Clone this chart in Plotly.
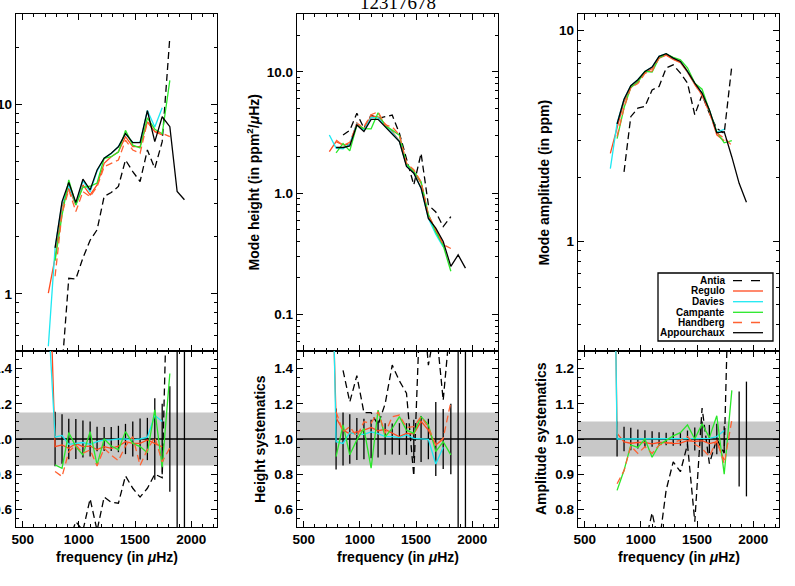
import plotly.graph_objects as go
import math

W, H = 795, 586
N = None

# ---------------- data ----------------
freq = [728, 788, 850, 910, 973, 1036, 1100, 1162, 1225, 1288, 1352, 1415,
        1480, 1545, 1610, 1676, 1742, 1810, 1875, 1940]

names = ["Antia", "Regulo", "Davies", "Campante", "Handberg", "Appourchaux"]

# left column, top (values)
p1_antia = [N, N, 0.41, 1.21, 1.2, 1.55, 1.92, 2.18, 3.27, 3.43, 3.69, 5.09, 4.42, 3.92, 5.75, 4.6, 6.36, 22.7, N, N]
p1_regulo = [1.01, 1.55, 2.89, 3.61, 2.95, 3.76, 3.33, 3.76, 4.89, 5.3, 5.63, 6.76, 5.99, 5.99, 8.1, 7.18, 6.9, N, N, N]
p1_davies = [0.53, 1.75, 3.0, 3.75, 2.98, 3.95, 3.45, 4.45, 5.2, 5.5, 6.0, 7.0, 6.3, 6.3, 9.3, 7.6, 9.6, N, N, N]
p1_campante = [N, 1.5, 2.6, 4.0, 2.95, 3.65, 3.7, 3.85, 5.2, 5.3, 5.6, 7.3, 6.1, 5.9, 8.5, 7.4, 7.0, 13.4, N, N]
p1_handberg = [N, 1.24, 2.67, 3.54, 2.72, 3.47, 3.26, 3.68, 4.69, 4.89, 5.09, 6.48, 5.75, 5.52, 8.1, 7.2, 7.03, 6.76, N, N]
p1_appourchaux = [N, 1.75, 3.07, 3.87, 3.04, 4.03, 3.54, 4.51, 5.2, 5.52, 5.98, 7.03, 6.29, 6.29, 9.26, 6.36, 8.61, 7.63, 3.47, 3.14]

# left column, bottom (systematics)
r1_antia = [N, N, 0.3, 0.42, 0.53, 0.48, 0.66, 0.48, 0.67, 0.64, 0.635, 0.79, 0.72, 0.67, 0.72, 0.80, 0.78, 2.5, N, N]
r1_regulo = [2.2, 0.957, 0.966, 0.947, 0.975, 0.957, 0.96, 0.94, 0.957, 0.947, 0.96, 0.985, 0.975, 0.975, 0.995, 0.975, 0.955, N, N, N]
r1_davies = [1.7, 1.01, 1.02, 0.97, 0.975, 0.98, 0.97, 0.985, 0.995, 0.995, 1.0, 1.0, 0.995, 1.0, 1.01, 1.135, 1.1, N, N, N]
r1_campante = [N, 0.853, 0.834, 1.036, 0.957, 0.909, 1.042, 0.853, 1.0, 0.96, 0.938, 1.042, 0.975, 0.957, 0.922, 1.166, 0.84, 1.372, N, N]
r1_handberg = [N, 0.815, 0.787, 0.928, 0.966, 0.919, 0.938, 0.847, 0.947, 0.909, 0.877, 0.96, 1.013, 0.85, 0.94, 1.01, 0.87, 0.95, N, N]
e1 = [N, 0.155, 0.14, 0.115, 0.113, 0.105, 0.1, 0.07, 0.068, 0.068, 0.075, 0.086, 0.1, 0.117, 0.12, 0.232, 0.2, 0.3, 5, 5]

# middle column, top (mode height)
p2_antia = [N, N, 3.02, 3.3, 4.55, 3.43, 4.4, 4.14, 4.27, 4.4, 3.12, 1.94, 1.17, 2.13, 0.80, 0.70, 0.53, 0.64, N, N]
p2_regulo = [2.2, 2.66, 2.5, 2.52, 3.8, 3.38, 4.33, 4.25, 3.73, 3.22, 2.69, 1.71, 1.5, 1.21, 0.65, 0.5, 0.376, N, N, N]
p2_davies = [3.02, 2.35, 2.32, 2.54, 3.75, 3.3, 4.22, 4.18, 3.59, 3.16, 2.68, 1.70, 1.47, 1.1, 0.62, 0.46, 0.36, N, N, N]
p2_campante = [N, 2.15, 2.57, 2.23, 3.63, 3.41, 3.39, 4.6, 3.59, 3.31, 3.0, 1.74, 1.51, 1.24, 0.67, 0.48, 0.37, 0.227, N, N]
p2_handberg = [N, 2.75, 2.48, 2.62, 3.70, 3.54, 4.43, 4.69, 3.65, 3.52, 3.02, 1.77, 1.56, 1.24, 0.66, 0.50, 0.378, 0.35, N, N]
p2_appourchaux = [N, 2.38, 2.38, 2.45, 3.65, 3.22, 4.06, 4.06, 3.54, 3.12, 2.66, 1.66, 1.46, 1.1, 0.62, 0.515, 0.40, 0.249, 0.31, 0.241]

# middle column, bottom (height systematics)
r2_antia = [N, N, 1.39, 1.21, 1.36, 1.15, 1.15, 1.08, 1.2, 1.42, 1.33, 1.26, 0.79, 1.9, 1.42, 1.65, 1.22, 1.7, N, N]
r2_regulo = [2.5, 1.12, 1.05, 1.03, 1.04, 1.05, 1.066, 1.047, 1.055, 1.032, 1.013, 1.032, 1.03, 1.1, 1.05, 0.966, 1.0, N, N, N]
r2_davies = [2.9, 0.985, 0.975, 1.036, 1.026, 1.026, 1.04, 1.03, 1.013, 1.013, 1.008, 1.023, 1.004, 1.0, 0.998, 0.858, 0.953, N, N, N]
r2_campante = [N, 0.9, 1.08, 0.91, 0.995, 1.06, 0.834, 1.164, 1.013, 1.06, 1.127, 1.05, 1.032, 1.127, 1.08, 0.928, 0.985, 0.91, N, N]
r2_handberg = [N, 1.155, 1.04, 1.07, 1.013, 1.098, 1.09, 1.155, 1.032, 1.127, 1.136, 1.066, 1.07, 1.127, 1.066, 0.966, 1.004, 1.21, N, N]
e2 = [N, 0.173, 0.15, 0.14, 0.12, 0.115, 0.11, 0.105, 0.09, 0.088, 0.09, 0.09, 0.11, 0.13, 0.115, 0.21, 0.17, 0.2, 5, 5]

# right column, top (mode amplitude)
p3_antia = [N, N, 2.13, 3.9, 4.28, 4.36, 5.23, 5.43, 6.64, 6.88, 6.28, 5.63, 3.98, 4.95, 4.05, 3.43, 3.25, 6.81, N, N]
p3_regulo = [2.61, 3.5, 4.6, 5.35, 5.75, 6.3, 6.6, 7.4, 7.65, 7.3, 7.05, 6.35, 5.55, 4.95, 4.15, 3.2, 3.0, N, N, N]
p3_davies = [2.21, 3.63, 4.72, 5.47, 5.84, 6.4, 6.71, 7.55, 7.77, 7.4, 7.14, 6.4, 5.63, 5.05, 4.2, 3.29, 3.39, N, N, N]
p3_campante = [N, 3.07, 4.3, 5.38, 5.7, 6.4, 6.36, 7.42, 7.75, 7.47, 7.27, 6.66, 5.63, 5.27, 4.22, 3.3, 2.93, 3.0, N, N]
p3_handberg = [N, 3.14, 4.3, 5.36, 5.6, 6.26, 6.43, 7.42, 7.68, 7.33, 7.12, 6.44, 5.55, 4.91, 4.07, 3.26, 3.08, 2.85, N, N]
p3_appourchaux = [N, 3.6, 4.72, 5.47, 5.84, 6.4, 6.71, 7.55, 7.77, 7.4, 7.14, 6.4, 5.63, 5.05, 4.2, 3.27, 3.31, 2.51, 1.88, 1.53]

# right column, bottom (amplitude systematics)
r3_antia = [N, N, 0.4, 0.55, 0.62, 0.70, 0.79, 0.70, 0.855, 0.935, 0.907, 0.985, 0.765, 1.088, 0.93, 1.0, 0.96, 1.8, N, N]
r3_regulo = [2.4, 1.016, 0.992, 0.988, 0.99, 0.99, 0.986, 0.99, 0.99, 0.987, 0.988, 0.995, 0.993, 0.995, 0.987, 0.992, 0.94, N, N, N]
r3_davies = [2.4, 1.0, 1.0, 1.0, 1.0, 1.0, 1.0, 1.0, 1.0, 1.0, 1.0, 1.0, 1.0, 1.0, 1.002, 1.007, 1.024, N, N, N]
r3_campante = [N, 0.854, 0.911, 0.983, 0.976, 1.0, 0.948, 0.983, 0.997, 1.009, 1.018, 1.04, 1.0, 1.043, 1.004, 1.066, 0.9, 1.138, N, N]
r3_handberg = [N, 0.873, 0.91, 0.98, 0.959, 0.978, 0.959, 0.983, 0.988, 0.99, 0.997, 1.007, 0.985, 0.973, 0.95, 0.997, 0.93, 1.054, N, N]
e3 = [N, 0.05, 0.035, 0.032, 0.027, 0.025, 0.022, 0.019, 0.018, 0.019, 0.019, 0.024, 0.033, 0.05, 0.04, 0.043, 0.036, N, 0.135, 0.163]

title_text = "12317678"
xtitle = "frequency (in <i>μ</i>Hz)"

# ---------------- styles ----------------
colors = {"Antia": "black", "Regulo": "#ff4a1e", "Davies": "#1ee8f2",
          "Campante": "#2ae82a", "Handberg": "#ff6232", "Appourchaux": "black"}
dashes = {"Antia": "7px,4px", "Regulo": "solid", "Davies": "solid",
          "Campante": "solid", "Handberg": "7px,4px", "Appourchaux": "solid"}
FONT = "Liberation Sans"
LW = 1.3

fig = go.Figure()

cols_x = [(16, 217), (297, 498), (578, 779)]
y_top = (14, 351)
y_bot = (351, 527)

def px_dom_x(a, b):
    return [a / W, b / W]

def px_dom_y(top, bottom):
    return [(H - bottom) / H, (H - top) / H]

upper_series = [
    [p1_antia, p1_regulo, p1_davies, p1_campante, p1_handberg, p1_appourchaux],
    [p2_antia, p2_regulo, p2_davies, p2_campante, p2_handberg, p2_appourchaux],
    [p3_antia, p3_regulo, p3_davies, p3_campante, p3_handberg, p3_appourchaux],
]
lower_series = [
    [r1_antia, r1_regulo, r1_davies, r1_campante, r1_handberg],
    [r2_antia, r2_regulo, r2_davies, r2_campante, r2_handberg],
    [r3_antia, r3_regulo, r3_davies, r3_campante, r3_handberg],
]
errs = [e1, e2, e3]
upper_ranges = [(0.5, 30), (0.05, 30), (0.3, 12)]
upper_ticks = [([1, 10], ["1", "10"]), ([0.1, 1, 10], ["0.1", "1.0", "10.0"]), ([1, 10], ["1", "10"])]
lower_ranges = [(0.5, 1.5), (0.5, 1.5), (0.75, 1.25)]
lower_ticks = [[0.6, 0.8, 1.0, 1.2, 1.4], [0.6, 0.8, 1.0, 1.2, 1.4], [0.8, 0.9, 1.0, 1.1, 1.2]]
lower_minor = [0.05, 0.05, 0.025]
bands = [0.15, 0.15, 0.05]
xrange_ = [440, 2230]

tickfont = dict(family=FONT, size=13.5, color="black", weight="bold")
common_axis = dict(showline=True, linecolor="black", linewidth=1.4, mirror="allticks",
                   ticks="inside", ticklen=6, tickwidth=1.1, tickcolor="black",
                   showgrid=False, zeroline=False, tickfont=tickfont, automargin=False)

layout = {}
for c in range(3):
    iu = 2 * c + 1
    il = 2 * c + 2
    xu = "x" if iu == 1 else f"x{iu}"
    yu = "y" if iu == 1 else f"y{iu}"
    xl, yl = f"x{il}", f"y{il}"
    xd = px_dom_x(*cols_x[c])

    # upper
    for k, name in enumerate(names):
        fig.add_trace(go.Scatter(x=freq, y=upper_series[c][k], mode="lines",
                                 line=dict(color=colors[name], width=LW, dash=dashes[name]),
                                 xaxis=xu, yaxis=yu, showlegend=False, name=name))
    lo, hi = upper_ranges[c]
    dec = range(int(math.floor(math.log10(lo))), int(math.ceil(math.log10(hi))) + 1)
    minor_vals = [m * 10 ** d for d in dec for m in range(2, 10)]
    layout["xaxis" if iu == 1 else f"xaxis{iu}"] = dict(
        domain=xd, anchor=yu, range=xrange_, tickvals=[500, 1000, 1500, 2000],
        showticklabels=False, minor=dict(ticks="inside", ticklen=3, dtick=100, tickcolor="black"),
        **common_axis)
    layout["yaxis" if iu == 1 else f"yaxis{iu}"] = dict(
        domain=px_dom_y(*y_top), anchor=xu, type="log",
        range=[math.log10(lo), math.log10(hi)],
        tickvals=upper_ticks[c][0], ticktext=upper_ticks[c][1],
        minor=dict(ticks="inside", ticklen=3, tickvals=minor_vals, tickcolor="black"),
        **common_axis)

    # lower
    err = errs[c]
    ex = [f for f, e in zip(freq, err) if e is not None]
    ev = [e for e in err if e is not None]
    fig.add_trace(go.Scatter(x=ex, y=[1.0] * len(ex), mode="markers",
                             marker=dict(size=1, color="rgba(0,0,0,0)"),
                             error_y=dict(type="data", array=ev, color="black", thickness=1.3, width=0),
                             xaxis=xl, yaxis=yl, showlegend=False, hoverinfo="skip"))
    for k, name in enumerate(names[:5]):
        fig.add_trace(go.Scatter(x=freq, y=lower_series[c][k], mode="lines",
                                 line=dict(color=colors[name], width=LW, dash=dashes[name]),
                                 xaxis=xl, yaxis=yl, showlegend=False, name=name))
    layout[f"xaxis{il}"] = dict(
        domain=xd, anchor=yl, range=xrange_, tickvals=[500, 1000, 1500, 2000],
        minor=dict(ticks="inside", ticklen=3, dtick=100, tickcolor="black"),
        **common_axis)
    lt = lower_ticks[c]
    layout[f"yaxis{il}"] = dict(
        domain=px_dom_y(*y_bot), anchor=xl, range=list(lower_ranges[c]),
        tickvals=lt, ticktext=[f"{v:.1f}" for v in lt],
        minor=dict(ticks="inside", ticklen=3, dtick=lower_minor[c], tickcolor="black"),
        **common_axis)

shapes = []
for c in range(3):
    il = 2 * c + 2
    shapes.append(dict(type="rect", xref=f"x{il} domain", yref=f"y{il}", x0=0, x1=1,
                       y0=1 - bands[c], y1=1 + bands[c], fillcolor="#c8c8c8",
                       line=dict(width=0), layer="below"))
    shapes.append(dict(type="line", xref=f"x{il} domain", yref=f"y{il}", x0=0, x1=1,
                       y0=1, y1=1, line=dict(color="black", width=1.3), layer="below"))

annotations = []
tfont = dict(family=FONT, size=14, color="black", weight="bold")
# title (partly above the page edge, as in the reference)
annotations.append(dict(text=title_text, x=397.5 / W, y=(H - 2) / H, xref="paper", yref="paper",
                        xanchor="center", yanchor="middle", showarrow=False,
                        font=dict(family="Liberation Serif", size=19, color="black")))
# x titles
for c in range(3):
    a, b = cols_x[c]
    annotations.append(dict(text=xtitle, x=(a + b) / 2 / W, y=(H - 557) / H, xref="paper", yref="paper",
                            xanchor="center", yanchor="middle", showarrow=False, font=tfont))
# y titles
ytitles = [("Mode height (in ppm<sup>2</sup>/<i>μ</i>Hz)", 253, 182.5),
           ("Mode amplitude (in ppm)", 543, 182.5),
           ("Height systematics", 260, 439),
           ("Amplitude systematics", 541, 439)]
for t, xp, yp in ytitles:
    annotations.append(dict(text=t, x=xp / W, y=(H - yp) / H, xref="paper", yref="paper",
                            xanchor="center", yanchor="middle", textangle=-90,
                            showarrow=False, font=tfont))

# legend (text left, line sample right)
shapes.append(dict(type="rect", xref="paper", yref="paper", x0=658 / W, x1=773 / W,
                   y0=(H - 341) / H, y1=(H - 273) / H, line=dict(color="black", width=1.3),
                   fillcolor="white", layer="above"))
leg_y = [280.7, 291.0, 301.7, 312.3, 322.5, 332.7]
lfont = dict(family=FONT, size=10, color="black", weight="bold")
for name, yy in zip(names, leg_y):
    annotations.append(dict(text=name, x=727 / W, y=(H - yy) / H, xref="paper", yref="paper",
                            xanchor="right", yanchor="middle", showarrow=False, font=lfont))
    dash = "dash" if dashes[name] != "solid" else "solid"
    shapes.append(dict(type="line", xref="paper", yref="paper", x0=733 / W, x1=763 / W,
                       y0=(H - yy) / H, y1=(H - yy) / H,
                       line=dict(color=colors[name], width=1.3, dash=dash), layer="above"))

fig.update_layout(width=W, height=H, autosize=False,
                  margin=dict(l=0, r=0, t=0, b=0, pad=0, autoexpand=False),
                  paper_bgcolor="white", plot_bgcolor="white", showlegend=False,
                  shapes=shapes, annotations=annotations, **layout)

# remove the default 8px page margin so the figure sits at the window's top-left corner
fig.write_html("out.html", config={"displayModeBar": False},
               post_script="document.body.style.margin='0px';")
